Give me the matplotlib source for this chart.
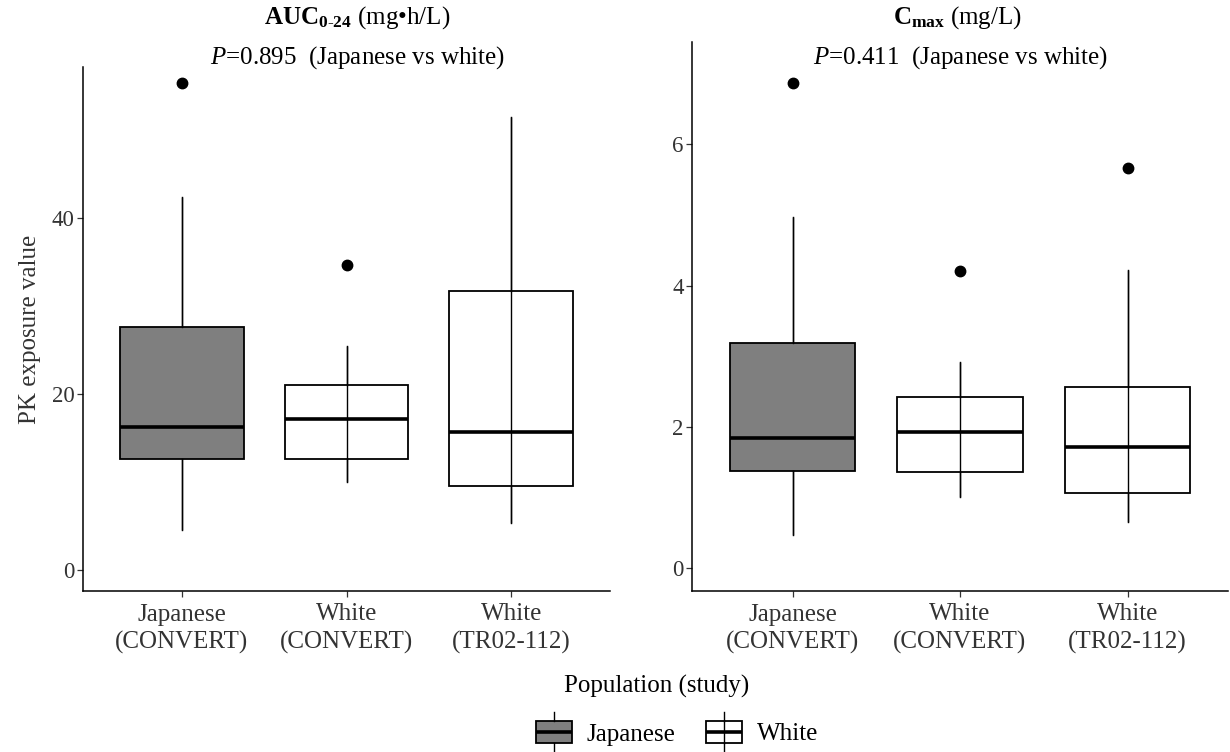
import matplotlib
matplotlib.use("Agg")
import matplotlib.pyplot as plt
from matplotlib.legend_handler import HandlerBase
from matplotlib.lines import Line2D
from matplotlib.patches import Patch, Rectangle

plt.rcParams["font.family"] = ["Liberation Serif", "DejaVu Serif"]
plt.rcParams["mathtext.fontset"] = "custom"
plt.rcParams["mathtext.rm"] = "Liberation Serif"
plt.rcParams["mathtext.it"] = "Liberation Serif:italic"
plt.rcParams["mathtext.bf"] = "Liberation Serif:bold"

# groups shown on each panel
groups = ["Japanese\n(CONVERT)", "White\n(CONVERT)", "White\n(TR02-112)"]
group_race = ["Japanese", "White", "White"]
race_fill = {"Japanese": "#7f7f7f", "White": "none"}

# AUC0-24 (mg*h/L) box statistics
auc_whislo = [4.5, 10.0, 5.3]
auc_q1 = [12.65, 12.65, 9.5]
auc_med = [16.25, 17.2, 15.7]
auc_q3 = [27.6, 21.05, 31.7]
auc_whishi = [42.4, 25.5, 51.5]
auc_fliers = [[55.4], [34.7], []]
auc_p = "0.895"

# Cmax (mg/L) box statistics
cmax_whislo = [0.47, 1.01, 0.65]
cmax_q1 = [1.375, 1.36, 1.06]
cmax_med = [1.84, 1.93, 1.72]
cmax_q3 = [3.19, 2.42, 2.57]
cmax_whishi = [4.97, 2.92, 4.23]
cmax_fliers = [[6.87], [4.21], [5.66]]
cmax_p = "0.411"

TXT = "#333333"
FS = 18


def draw_panel(ax, whislo, q1, med, q3, whishi, fliers, ylim, yticks):
    pos = [1, 2, 3]
    stats = []
    for i in range(len(pos)):
        stats.append(dict(whislo=whislo[i], q1=q1[i], med=med[i], q3=q3[i],
                          whishi=whishi[i], fliers=fliers[i]))
    # full whisker line under the box (ggplot style, visible through empty boxes)
    ax.vlines(pos, whislo, whishi, color="black", lw=1.0, zorder=1)
    bp = ax.bxp(stats, positions=pos, widths=0.75, patch_artist=True,
                showcaps=False,
                boxprops=dict(edgecolor="black", linewidth=1.3),
                whiskerprops=dict(color="black", linewidth=1.0),
                medianprops=dict(color="black", linewidth=2.6, solid_capstyle="butt"),
                flierprops=dict(marker="o", markerfacecolor="black",
                                markeredgecolor="black", markersize=7.5),
                zorder=2)
    for patch, race in zip(bp["boxes"], group_race):
        patch.set_facecolor(race_fill[race])
    ax.set_xlim(0.4, 3.6)
    ax.set_ylim(*ylim)
    ax.set_xticks(pos)
    ax.set_xticklabels(groups, fontsize=FS, color=TXT, linespacing=1.3)
    ax.set_yticks(yticks)
    ax.tick_params(axis="y", labelsize=16.5, labelcolor=TXT, length=4,
                   width=0.9, color=TXT, pad=2)
    ax.tick_params(axis="x", length=4, width=0.9, color=TXT, pad=5)
    for side in ["top", "right"]:
        ax.spines[side].set_visible(False)
    for side in ["left", "bottom"]:
        ax.spines[side].set_linewidth(1.1)


fig = plt.figure(figsize=(12.3, 7.52), dpi=100)
ax1 = fig.add_axes([83 / 1230, 161 / 752, 527 / 1230, 524 / 752])
ax2 = fig.add_axes([692 / 1230, 161 / 752, 536 / 1230, 549 / 752])

draw_panel(ax1, auc_whislo, auc_q1, auc_med, auc_q3, auc_whishi, auc_fliers,
           (-2.4, 57.2), [0, 20, 40])
draw_panel(ax2, cmax_whislo, cmax_q1, cmax_med, cmax_q3, cmax_whishi, cmax_fliers,
           (-0.32, 7.45), [0, 2, 4, 6])

ax1.set_ylabel("PK exposure value", fontsize=FS, color=TXT, labelpad=8)

# panel titles and P-value annotations
fig.text(357 / 1230, 1 - 18 / 752, r"$\mathbf{AUC_{0\text{-}24}}$ (mg•h/L)",
         ha="center", va="center", fontsize=FS, color="black")
fig.text(357 / 1230, 1 - 58 / 752, r"$\mathit{P}$=" + auc_p + "  (Japanese vs white)",
         ha="center", va="center", fontsize=FS, color="black")
fig.text(957 / 1230, 1 - 18 / 752, r"$\mathbf{C_{max}}$ (mg/L)",
         ha="center", va="center", fontsize=FS, color="black")
fig.text(960 / 1230, 1 - 58 / 752, r"$\mathit{P}$=" + cmax_p + "  (Japanese vs white)",
         ha="center", va="center", fontsize=FS, color="black")

fig.text(657 / 1230, 1 - 686 / 752, "Population (study)", ha="center",
         va="center", fontsize=FS, color="black")


class BoxKey(HandlerBase):
    def create_artists(self, legend, orig_handle, xdescent, ydescent,
                       width, height, fontsize, trans):
        x0, y0 = -xdescent, -ydescent
        cx = x0 + width / 2
        ext = 0.4 * height
        box = Rectangle((x0, y0), width, height,
                        facecolor=orig_handle.get_facecolor(),
                        edgecolor="black", lw=1.3)
        whisk_lo = Line2D([cx, cx], [y0 - ext, y0], color="black", lw=1.0)
        whisk_hi = Line2D([cx, cx], [y0 + height, y0 + height + ext],
                          color="black", lw=1.0)
        arts = [box, whisk_lo, whisk_hi]
        if orig_handle.get_facecolor()[3] == 0:
            # empty box: whisker visible through it
            arts.append(Line2D([cx, cx], [y0, y0 + height], color="black", lw=1.0))
        arts.append(Line2D([x0, x0 + width], [y0 + height / 2] * 2,
                           color="black", lw=2.6, solid_capstyle="butt"))
        for a in arts:
            a.set_transform(trans)
        return arts


handles = [Patch(facecolor=race_fill[r], edgecolor="black") for r in ["Japanese", "White"]]
fig.legend(handles, ["Japanese", "White"], loc="lower center",
           bbox_to_anchor=(677 / 1230, 4 / 752), ncol=2, frameon=False,
           fontsize=FS, handler_map={Patch: BoxKey()}, handlelength=1.45,
           handleheight=1.0, handletextpad=0.6, columnspacing=1.2,
           borderpad=0.1, borderaxespad=0)

fig.savefig("out.png", dpi=100)
